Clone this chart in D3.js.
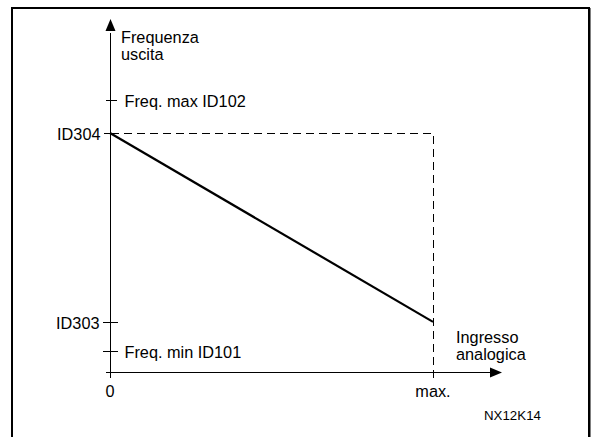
<!DOCTYPE html>
<html>
<head>
<meta charset="utf-8">
<script src="https://cdn.jsdelivr.net/npm/d3@7"></script>
<style>
  html, body { margin: 0; padding: 0; background: #fff; }
  svg { display: block; }
  text { font-family: "Liberation Sans", Arial, sans-serif; fill: #000; }
</style>
</head>
<body>
<svg id="chart" width="591" height="437"></svg>
<script>
// ---- data ----
const xTicks = [0, 82.4];
const xTickLabels = ["0", "max."];
const lineX = [0, 82.4];
const lineY = [67.7, 14.2];            // ID304 at input 0 -> ID303 at input max
const yLevels = [77.1, 67.7, 14.2, 5.9];
const yLevelLabels = ["Freq. max ID102", "ID304", "ID303", "Freq. min ID101"];
const yLabelSide = ["right", "left", "left", "right"];
const yAxisTitle = ["Frequenza", "uscita"];
const xAxisTitle = ["Ingresso", "analogica"];
const figureCode = "NX12K14";

// ---- layout ----
const svg = d3.select("#chart");
const x = d3.scaleLinear().domain([0, 100]).range([110, 502]);
const y = d3.scaleLinear().domain([0, 100]).range([372, 19]);
const px = v => Math.round(v) + 0.5;
const FS = 16.3;

// frame
svg.append("rect").attr("x", 12).attr("y", 8).attr("width", 577).attr("height", 450)
  .attr("fill", "none").attr("stroke", "#000").attr("stroke-width", 2);
svg.append("line").attr("x1", 589.5).attr("x2", 589.5).attr("y1", 8).attr("y2", 437)
  .attr("stroke", "#000").attr("stroke-width", 2);

const ax = px(x(0)), ay = px(y(0));

// y axis with arrow
svg.append("line").attr("x1", ax).attr("x2", ax).attr("y1", ay + 5).attr("y2", y(96))
  .attr("stroke", "#000").attr("stroke-width", 1).attr("shape-rendering", "crispEdges");
svg.append("path")
  .attr("d", `M${ax},${y(100)} L${ax - 5},${y(100) + 12} L${ax + 5},${y(100) + 12} Z`)
  .attr("fill", "#000");

// x axis with arrow
svg.append("line").attr("x1", ax - 5).attr("x2", x(97)).attr("y1", ay).attr("y2", ay)
  .attr("stroke", "#000").attr("stroke-width", 1).attr("shape-rendering", "crispEdges");
svg.append("path")
  .attr("d", `M${x(100)},${ay} L${x(100) - 12},${ay - 5} L${x(100) - 12},${ay + 5} Z`)
  .attr("fill", "#000");

// dashed guides
const mx = px(x(lineX[1])), my = px(y(lineY[0]));
svg.append("path")
  .attr("d", `M${ax},${my} H${mx} V${ay + 6}`)
  .attr("fill", "none").attr("stroke", "#000").attr("stroke-width", 1)
  .attr("shape-rendering", "crispEdges")
  .attr("stroke-dasharray", "8,5");

// main line
svg.append("path")
  .datum(lineX.map((d, i) => [d, lineY[i]]))
  .attr("d", d3.line().x(d => x(d[0])).y(d => y(d[1])))
  .attr("fill", "none").attr("stroke", "#000").attr("stroke-width", 2.2);

// y level ticks + labels
yLevels.forEach((v, i) => {
  const side = yLabelSide[i];
  const yy = px(y(v));
  let x1, x2;
  if (i === 0) { x1 = ax - 5; x2 = ax + 6; }
  else if (i === 1) { x1 = ax - 7; x2 = ax; }
  else { x1 = ax - 8; x2 = ax + 7; }
  svg.append("line").attr("x1", x1).attr("x2", x2).attr("y1", yy).attr("y2", yy)
    .attr("stroke", "#000").attr("stroke-width", 1).attr("shape-rendering", "crispEdges");
  svg.append("text")
    .attr("x", side === "right" ? ax + 14 : x1 - 3)
    .attr("y", yy + 6)
    .attr("text-anchor", side === "right" ? "start" : "end")
    .attr("font-size", FS)
    .text(yLevelLabels[i]);
});

// x tick labels
xTicks.forEach((v, i) => {
  svg.append("text").attr("x", x(v)).attr("y", 397)
    .attr("text-anchor", "middle").attr("font-size", FS).text(xTickLabels[i]);
});

// axis titles
yAxisTitle.forEach((t, i) => {
  svg.append("text").attr("x", 121).attr("y", 43 + i * 17)
    .attr("font-size", FS).text(t);
});
xAxisTitle.forEach((t, i) => {
  svg.append("text").attr("x", 456).attr("y", 343 + i * 17)
    .attr("font-size", FS).text(t);
});

svg.append("text").attr("x", 484).attr("y", 420).attr("font-size", 13.3).text(figureCode);
</script>
</body>
</html>
